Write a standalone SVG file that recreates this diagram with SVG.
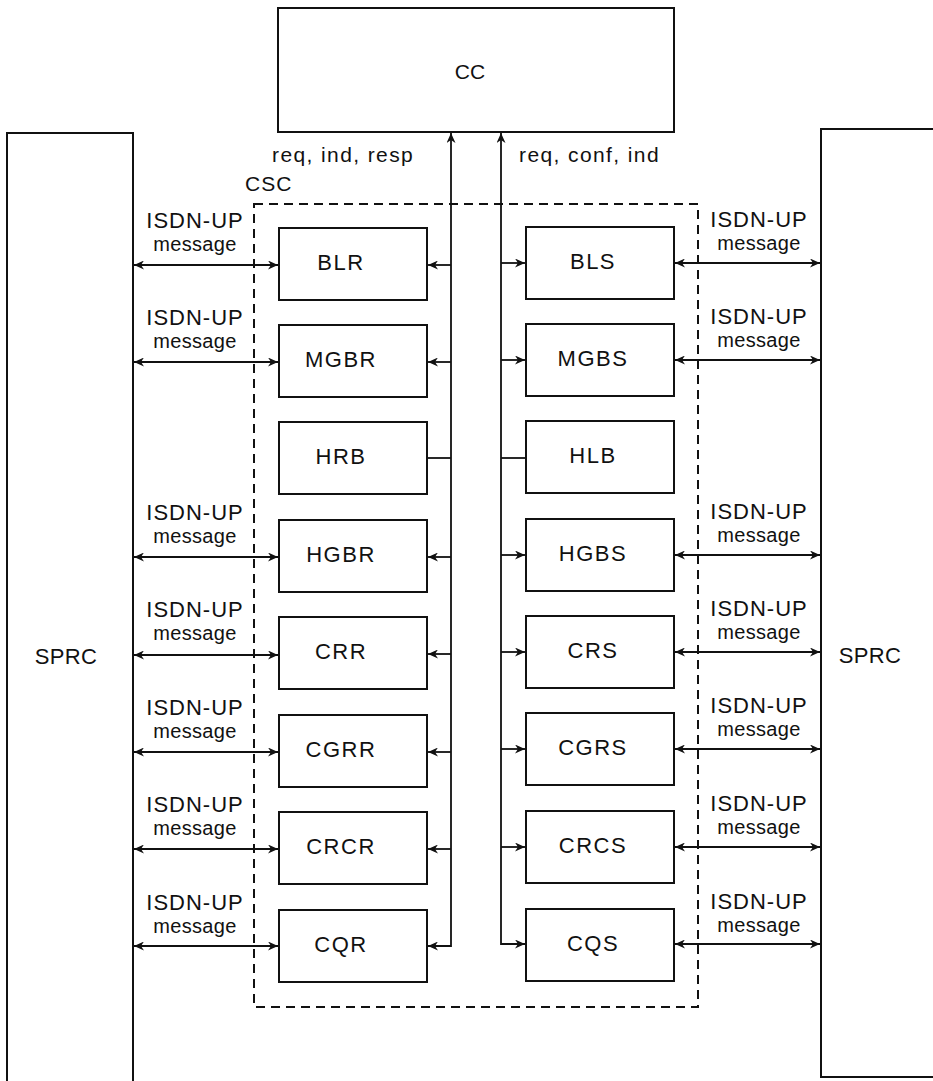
<svg xmlns="http://www.w3.org/2000/svg" width="933" height="1081" viewBox="0 0 933 1081">
<style>
.box{fill:none;stroke:#111;stroke-width:2}
.ln{fill:none;stroke:#111;stroke-width:1.8}
.dash{fill:none;stroke:#111;stroke-width:2;stroke-dasharray:9 6}
text{font-family:"Liberation Sans",Arial,sans-serif;fill:#111}
.lbl{font-size:22px;letter-spacing:1.5px;text-anchor:middle}
.sprc{font-size:22px;letter-spacing:0.3px;text-anchor:middle}
.isdn{font-size:22px;letter-spacing:1px;text-anchor:middle}
.msg{font-size:20px;letter-spacing:0.3px;text-anchor:middle}
.arr{marker-end:url(#ah)}
.arr2{marker-start:url(#ah);marker-end:url(#ah)}
</style>
<defs>
<marker id="ah" markerUnits="userSpaceOnUse" markerWidth="11" markerHeight="9" refX="10" refY="4.5" orient="auto-start-reverse">
<path d="M0,0 L10,4.5 L0,9 L3,4.5 z" fill="#111"/>
</marker>
</defs>
<rect width="933" height="1081" fill="#fff"/>
<g id="CC"><rect class="box" x="278" y="8" width="396" height="124"/><text x="470" y="79" style="font-size:21px;text-anchor:middle">CC</text></g>
<g id="SPRC-left"><path class="box" d="M7,1081 V133 H133 V1081"/><text class="sprc" x="66" y="664">SPRC</text></g>
<g id="SPRC-right"><path class="box" d="M935,129 H821 V1077 H935"/><text class="sprc" x="870" y="663">SPRC</text></g>
<g id="CSC"><rect class="dash" x="254" y="204" width="444" height="803"/><text x="245" y="191" style="font-size:21px;letter-spacing:1px">CSC</text></g>
<g id="labels-top">
<text x="272" y="162" style="font-size:21px;letter-spacing:1.4px">req, ind, resp</text>
<text x="519" y="162" style="font-size:21px;letter-spacing:1.4px">req, conf, ind</text>
</g>
<g id="BLR"><rect class="box" x="279" y="228" width="148" height="72"/><text class="lbl" x="341" y="270">BLR</text></g>
<g id="MGBR"><rect class="box" x="279" y="325" width="148" height="72"/><text class="lbl" x="341" y="367">MGBR</text></g>
<g id="HRB"><rect class="box" x="279" y="422" width="148" height="72"/><text class="lbl" x="341" y="464">HRB</text></g>
<g id="HGBR"><rect class="box" x="279" y="520" width="148" height="72"/><text class="lbl" x="341" y="562">HGBR</text></g>
<g id="CRR"><rect class="box" x="279" y="617" width="148" height="72"/><text class="lbl" x="341" y="659">CRR</text></g>
<g id="CGRR"><rect class="box" x="279" y="715" width="148" height="72"/><text class="lbl" x="341" y="757">CGRR</text></g>
<g id="CRCR"><rect class="box" x="279" y="812" width="148" height="72"/><text class="lbl" x="341" y="854">CRCR</text></g>
<g id="CQR"><rect class="box" x="279" y="910" width="148" height="72"/><text class="lbl" x="341" y="952">CQR</text></g>
<g id="BLS"><rect class="box" x="526" y="227" width="148" height="72"/><text class="lbl" x="593" y="269">BLS</text></g>
<g id="MGBS"><rect class="box" x="526" y="324" width="148" height="72"/><text class="lbl" x="593" y="366">MGBS</text></g>
<g id="HLB"><rect class="box" x="526" y="421" width="148" height="72"/><text class="lbl" x="593" y="463">HLB</text></g>
<g id="HGBS"><rect class="box" x="526" y="519" width="148" height="72"/><text class="lbl" x="593" y="561">HGBS</text></g>
<g id="CRS"><rect class="box" x="526" y="616" width="148" height="72"/><text class="lbl" x="593" y="658">CRS</text></g>
<g id="CGRS"><rect class="box" x="526" y="713" width="148" height="72"/><text class="lbl" x="593" y="755">CGRS</text></g>
<g id="CRCS"><rect class="box" x="526" y="811" width="148" height="72"/><text class="lbl" x="593" y="853">CRCS</text></g>
<g id="CQS"><rect class="box" x="526" y="909" width="148" height="72"/><text class="lbl" x="593" y="951">CQS</text></g>
<g id="msg-labels">
<text class="isdn" x="195" y="228">ISDN-UP</text><text class="msg" x="195" y="251">message</text>
<text class="isdn" x="195" y="325">ISDN-UP</text><text class="msg" x="195" y="348">message</text>
<text class="isdn" x="195" y="520">ISDN-UP</text><text class="msg" x="195" y="543">message</text>
<text class="isdn" x="195" y="617">ISDN-UP</text><text class="msg" x="195" y="640">message</text>
<text class="isdn" x="195" y="715">ISDN-UP</text><text class="msg" x="195" y="738">message</text>
<text class="isdn" x="195" y="812">ISDN-UP</text><text class="msg" x="195" y="835">message</text>
<text class="isdn" x="195" y="910">ISDN-UP</text><text class="msg" x="195" y="933">message</text>
<text class="isdn" x="759" y="227">ISDN-UP</text><text class="msg" x="759" y="250">message</text>
<text class="isdn" x="759" y="324">ISDN-UP</text><text class="msg" x="759" y="347">message</text>
<text class="isdn" x="759" y="519">ISDN-UP</text><text class="msg" x="759" y="542">message</text>
<text class="isdn" x="759" y="616">ISDN-UP</text><text class="msg" x="759" y="639">message</text>
<text class="isdn" x="759" y="713">ISDN-UP</text><text class="msg" x="759" y="736">message</text>
<text class="isdn" x="759" y="811">ISDN-UP</text><text class="msg" x="759" y="834">message</text>
<text class="isdn" x="759" y="909">ISDN-UP</text><text class="msg" x="759" y="932">message</text>
</g>
<g id="connectors">
<path class="ln arr2" d="M451,133 V946 H428"/>
<path class="ln arr2" d="M501,133 V944 H525"/>
<path class="ln arr" d="M451,265 H428"/>
<path class="ln arr" d="M451,362 H428"/>
<path class="ln" d="M451,458 H427"/>
<path class="ln arr" d="M451,557 H428"/>
<path class="ln arr" d="M451,654 H428"/>
<path class="ln arr" d="M451,752 H428"/>
<path class="ln arr" d="M451,849 H428"/>
<path class="ln arr" d="M501,263 H525"/>
<path class="ln arr" d="M501,360 H525"/>
<path class="ln" d="M501,458 H526"/>
<path class="ln arr" d="M501,555 H525"/>
<path class="ln arr" d="M501,652 H525"/>
<path class="ln arr" d="M501,749 H525"/>
<path class="ln arr" d="M501,847 H525"/>
<path class="ln arr2" d="M134,265 H278"/>
<path class="ln arr2" d="M134,362 H278"/>
<path class="ln arr2" d="M134,557 H278"/>
<path class="ln arr2" d="M134,655 H278"/>
<path class="ln arr2" d="M134,752 H278"/>
<path class="ln arr2" d="M134,849 H278"/>
<path class="ln arr2" d="M134,946 H278"/>
<path class="ln arr2" d="M675,263 H820"/>
<path class="ln arr2" d="M675,360 H820"/>
<path class="ln arr2" d="M675,555 H820"/>
<path class="ln arr2" d="M675,652 H820"/>
<path class="ln arr2" d="M675,749 H820"/>
<path class="ln arr2" d="M675,847 H820"/>
<path class="ln arr2" d="M675,944 H820"/>
</g>
</svg>
